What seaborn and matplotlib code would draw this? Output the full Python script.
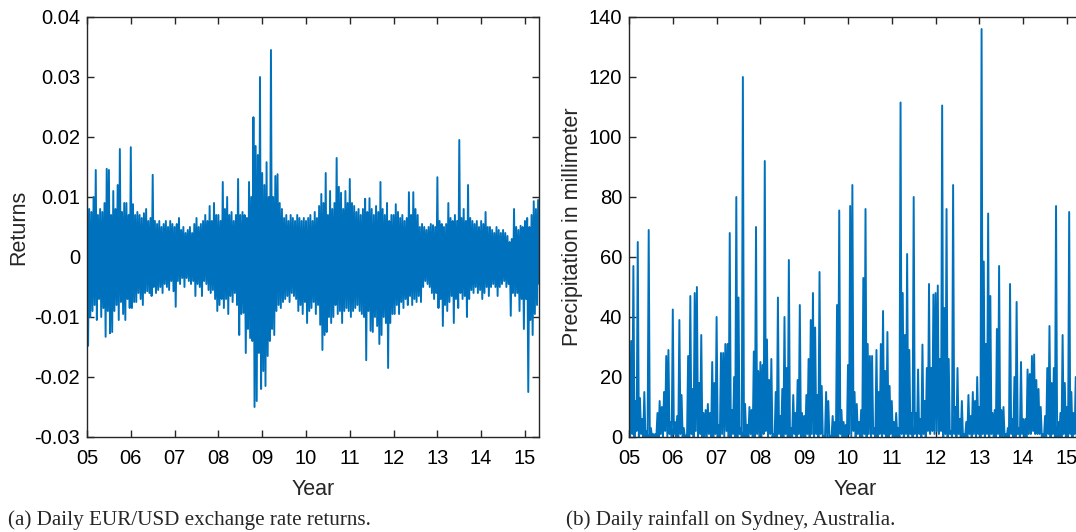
import numpy as np
import matplotlib
matplotlib.use("Agg")
import matplotlib.pyplot as plt
import seaborn as sns

ret_hi = [
    11.3, 8, 7.5, 10, 14.5, 7, 8, 7.5, 9, 14.7, 14.5, 7, 11, 8, 12, 18, 7.5, 9, 9, 7,          # 2005
    18.3, 8.8, 7, 7.5, 7, 6.5, 7.3, 8, 6, 6.5, 13.7, 6, 5.5, 6, 5, 5.5, 6, 5, 6, 5.5,         # 2006
    5, 5.5, 6.5, 4.5, 5, 4, 4.5, 5, 4, 5.5, 6.5, 5, 5.5, 6, 7, 6, 8.5, 6, 9, 7,               # 2007
    7, 6, 12.5, 8, 10, 7, 7.5, 6, 7, 13, 7, 7.5, 7, 6.5, 12.5, 10, 23.3, 18.5, 17, 30,        # 2008
    14, 12, 15.8, 10, 34.5, 10, 13.5, 13.8, 9, 8, 6.5, 7, 6, 7, 6.5, 6, 7, 6.5, 6, 6.5,       # 2009
    6, 6.5, 7, 6, 7.5, 6.5, 8.5, 10.5, 9, 14, 7, 11, 8, 9, 16.5, 11.7, 10.7, 8, 11, 9,        # 2010
    13, 9, 8.5, 7.5, 8, 7, 8, 9.7, 7.5, 9.8, 8, 7, 8.5, 7.5, 12.5, 8, 7, 9, 6, 7,             # 2011
    7, 8.8, 7.5, 6.5, 7, 6, 6.5, 10.8, 7, 10.8, 8, 7, 5, 5.5, 5, 4.5, 5, 5.5, 5.3, 5,         # 2012
    13.3, 6, 5.5, 5, 5.5, 9, 6.5, 6, 7, 6, 19.5, 6.5, 8, 6, 12, 6.5, 6, 5.5, 6, 5,            # 2013
    6, 5.5, 7.5, 5, 5, 4.5, 4, 5, 4.5, 4, 4.5, 4, 3.5, 2.5, 3, 8, 5, 4.5, 5.2, 5,             # 2014
    6, 6.5, 5, 7, 9.3, 8, 9.5,                                                                # 2015
]
ret_lo = [
    -14.8, -10, -9, -8, -10.5, -7, -10, -8.5, -13.3, -9, -12.7, -12.5, -9, -8, -10.5, -7.5, -9.5, -10.5, -7, -8.5,
    -8.5, -7.5, -7.5, -6, -7, -8, -6, -5.7, -6, -6.5, -5, -6, -5.5, -5, -6, -4.5, -5, -5.5, -4, -5.7,
    -8.3, -4, -4.5, -3.5, -5, -3.5, -4, -4.5, -4, -6.5, -4.5, -5, -6.5, -4, -4.5, -5.5, -6, -5.5, -7, -9,
    -8, -7, -8.5, -7, -9.5, -6.5, -7.5, -6, -8, -13, -9.5, -9.3, -16, -12, -13.5, -14, -25, -24, -16, -22,
    -19, -21.5, -16.5, -14, -12, -13, -9, -8, -8.5, -7.5, -7, -6.5, -7.5, -6, -6.5, -7, -9, -8, -9.5, -7.5,
    -11, -9, -8.5, -7.5, -9.5, -8, -11.3, -15.5, -13, -12.5, -10, -11, -10, -8, -9.5, -9, -11, -9, -8.5, -9,
    -10, -9, -8.5, -8, -9, -9.5, -10, -17.2, -9, -12.3, -12.5, -10, -11.5, -14.5, -13, -10, -11, -18.5, -11, -9.5,
    -9.5, -8, -9.5, -7.5, -8.5, -7, -8, -6.5, -8, -7, -7.5, -6.5, -7.5, -5, -4, -4.5, -5, -6, -7, -6,
    -8.5, -7, -11.5, -8, -9, -7.5, -6.5, -11, -7, -8.5, -6, -7, -6.5, -10, -7, -5.5, -6, -5, -6, -5.5,
    -7, -6, -5, -6.5, -5, -4.5, -5, -6.5, -5, -4.5, -4, -5, -4.5, -9.8, -6, -6.5, -6, -9, -7, -12,
    -7, -22.5, -10.5, -13, -9.5, -8, -4.5,
]

# Sydney daily rainfall (mm), wettest / driest reading in every 1/20 year
rain_hi = [
    15, 32, 57, 12, 65, 13, 6, 15, 2, 69, 3, 1, 1, 8, 12, 10, 15, 27, 29, 5,                 # 2005
    42.5, 5, 7, 39, 14, 3, 0.5, 27, 47, 16, 48, 50, 18, 34, 8, 9, 11, 8, 25, 18,             # 2006
    40, 4, 28, 28, 31, 31, 68, 9, 20, 80, 46.5, 3, 120, 11, 4, 10, 9, 28.5, 70, 22,          # 2007
    25, 24, 92, 32.5, 19, 26, 1, 15, 46.5, 7, 16, 40, 23, 59, 3, 14, 8, 19, 44, 8,           # 2008
    7, 14, 26, 39, 48, 36.5, 14, 55, 17, 0.3, 15, 12, 0.3, 7, 5, 44, 75.5, 9, 5, 4,          # 2009
    24, 77, 84, 15, 11, 5, 9, 53, 76, 31, 27, 27, 3, 29, 15, 31, 42, 22, 35, 17,             # 2010
    12, 5, 8, 3, 111.5, 48, 34, 61, 29, 8, 80, 8, 22.5, 6, 30.8, 12, 23, 51, 23, 47.5,       # 2011
    48, 50.5, 26, 110.5, 43, 76, 26, 2, 84, 10, 23, 6, 12, 1, 5, 14, 7, 15, 12, 20,          # 2012
    10, 136, 58.5, 31, 74.5, 47, 8, 9, 36, 57, 9, 10, 1, 3, 51, 6, 20, 45, 3, 25,            # 2013
    6, 6, 22.5, 21, 27, 27.5, 19, 16, 10, 1, 7, 23, 37, 18, 23, 77, 5, 8, 34, 18,            # 2014
    10, 75, 15, 8, 20, 5, 10,                                                                # 2015
]
rain_lo = [
    0, 1, 0, 2, 0, 1, 0, 0, 0, 0, 0, 0, 0, 0, 1, 0, 2, 0, 1, 0,
    1, 0, 0, 1, 0, 0, 0, 0, 1, 0, 2, 0, 1, 0, 0, 0, 1, 0, 0, 1,
    0, 0, 1, 0, 2, 0, 0, 1, 0, 0, 1, 0, 0, 0, 0, 1, 0, 0, 1, 0,
    0, 1, 2, 0, 1, 0, 0, 0, 1, 0, 0, 1, 0, 0, 0, 1, 0, 1, 0, 0,
    0, 1, 0, 1, 0, 1, 0, 1, 0, 0, 0, 0, 0, 0, 0, 0, 1, 0, 0, 0,
    1, 0, 2, 0, 1, 0, 0, 1, 0, 1, 0, 1, 0, 0, 1, 0, 1, 0, 0, 1,
    0, 0, 0, 0, 1, 0, 1, 0, 1, 0, 1, 0, 1, 0, 1, 0, 2, 1, 2, 1,
    2, 1, 2, 0, 1, 0, 1, 0, 1, 0, 1, 0, 0, 0, 0, 1, 0, 1, 0, 1,
    0, 1, 0, 1, 0, 1, 0, 0, 1, 0, 0, 0, 0, 0, 1, 0, 0, 1, 0, 1,
    0, 0, 1, 1, 2, 1, 1, 1, 0, 0, 0, 1, 0, 1, 0, 0, 0, 0, 1, 0,
    0, 1, 0, 1, 0, 0, 1,
]

years = list(range(2005, 2016))
year_labels = ["05", "06", "07", "08", "09", "10", "11", "12", "13", "14", "15"]
ret_ticks = [-0.03, -0.02, -0.01, 0, 0.01, 0.02, 0.03, 0.04]
ret_labels = ["-0.03", "-0.02", "-0.01", "0", "0.01", "0.02", "0.03", "0.04"]
rain_ticks = [0, 20, 40, 60, 80, 100, 120, 140]

blue = "#0072BD"
frame = "#262626"

sns.set_style("ticks")
plt.rcParams["font.family"] = ["Liberation Sans", "DejaVu Sans"]


def zigzag(hi, lo, scale=1.0):
    # alternate the two readings of each step so the line sweeps the whole range
    y = np.column_stack([hi, lo]).ravel() * scale
    x = 2005 + np.arange(len(y)) / 40
    return x, y


def style(ax, right=True):
    ax.set_xlim(2005, 2015.32)
    ax.set_xticks(years)
    ax.set_xticklabels(year_labels)
    ax.tick_params(direction="in", top=True, right=right, length=5, width=1,
                   color=frame, labelcolor="black", labelsize=14.5)
    ax.tick_params(axis="x", pad=9)
    ax.tick_params(axis="y", pad=5)
    for s in ax.spines.values():
        s.set_color(frame)
        s.set_linewidth(1)
    ax.set_xlabel("Year", fontsize=15.5, labelpad=7.5)


fig = plt.figure(figsize=(10.76, 5.32), dpi=100)
ax1 = fig.add_axes([87 / 1076, 95 / 532, 452 / 1076, 420 / 532])
ax2 = fig.add_axes([629 / 1076, 95 / 532, 452 / 1076, 420 / 532])

x, y = zigzag(ret_hi, ret_lo, 1e-3)
sns.lineplot(x=x, y=y, ax=ax1, color=blue, linewidth=1.4, estimator=None)
style(ax1)
ax1.set_ylim(-0.03, 0.04)
ax1.set_yticks(ret_ticks)
ax1.set_yticklabels(ret_labels)
ax1.set_ylabel("Returns", fontsize=15.5, labelpad=3.5)

x, y = zigzag(rain_hi, rain_lo)
sns.lineplot(x=x, y=y, ax=ax2, color=blue, linewidth=1.4, estimator=None)
style(ax2, right=False)
ax2.set_ylim(0, 140)
ax2.set_yticks(rain_ticks)
ax2.set_ylabel("Precipitation in millimeter", fontsize=15.5, labelpad=4)

cap = dict(fontsize=15.2, family=["Liberation Serif", "DejaVu Serif"], va="center")
fig.text(8 / 1076, 1 - 520 / 532, "(a) Daily EUR/USD exchange rate returns.", **cap)
fig.text(566 / 1076, 1 - 520 / 532, "(b) Daily rainfall on Sydney, Australia.", **cap)

fig.savefig("out.png", dpi=100)
